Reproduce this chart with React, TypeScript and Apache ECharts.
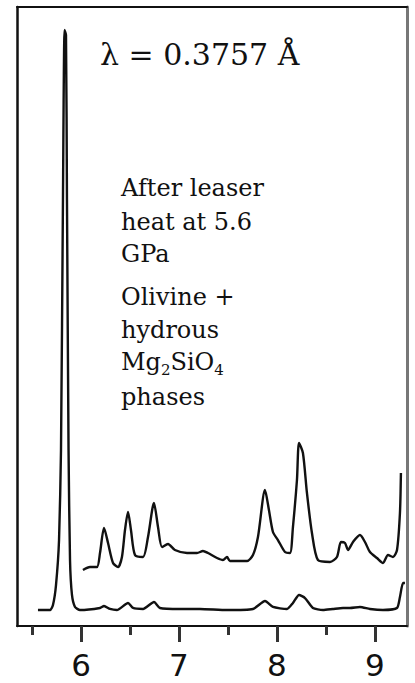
import React, { useEffect, useRef } from "react";
import * as echarts from "echarts";

// Bottom (full) pattern: [2-theta (deg), intensity]
const lowerX = [5.561, 5.684, 5.714, 5.745, 5.776, 5.796, 5.816, 5.832, 5.847, 5.857, 5.873, 5.888, 5.908, 5.939, 5.99, 6.194, 6.235, 6.296, 6.367, 6.48, 6.531, 6.633, 6.745, 6.806, 7.01, 7.214, 7.49, 7.755, 7.878, 7.959, 8.102, 8.163, 8.225, 8.286, 8.367, 8.469, 8.571, 8.674, 8.745, 8.847, 8.949, 9.082, 9.225, 9.255, 9.286, 9.306];
const lowerY = [2.58, 2.58, 3.39, 6.62, 13.89, 28.43, 68.82, 96.28, 95.48, 68.82, 28.43, 10.66, 5.01, 3.07, 2.58, 2.91, 3.23, 2.75, 2.58, 3.72, 2.91, 2.75, 3.88, 2.91, 2.75, 2.75, 2.58, 2.75, 4.04, 3.07, 2.75, 3.72, 5.01, 4.52, 2.91, 2.58, 2.75, 2.91, 2.91, 3.07, 2.75, 2.58, 2.91, 4.68, 6.95, 6.95];

// Upper (magnified, after laser heating) pattern
const upperX = [6.02, 6.092, 6.163, 6.194, 6.235, 6.276, 6.327, 6.378, 6.418, 6.449, 6.48, 6.51, 6.551, 6.633, 6.684, 6.745, 6.786, 6.827, 6.888, 6.959, 7.082, 7.184, 7.245, 7.296, 7.388, 7.449, 7.49, 7.52, 7.694, 7.755, 7.806, 7.878, 7.918, 7.959, 8.01, 8.082, 8.133, 8.163, 8.204, 8.225, 8.265, 8.306, 8.357, 8.418, 8.541, 8.612, 8.653, 8.694, 8.725, 8.776, 8.847, 8.898, 8.949, 9.02, 9.082, 9.133, 9.184, 9.225, 9.255, 9.265];
const upperY = [9.05, 9.53, 9.53, 11.79, 15.83, 13.41, 10.18, 9.53, 11.15, 15.51, 18.42, 15.51, 11.47, 11.15, 14.38, 19.87, 15.99, 12.76, 13.25, 12.28, 11.79, 11.79, 12.12, 11.79, 10.99, 10.66, 11.15, 10.5, 10.5, 11.47, 14.38, 21.97, 18.74, 15.19, 13.89, 11.95, 11.79, 15.99, 23.59, 29.56, 27.95, 21.49, 15.02, 10.66, 10.34, 11.15, 13.57, 13.41, 12.28, 13.57, 14.7, 13.57, 11.95, 10.99, 10.18, 11.47, 11.15, 12.28, 18.26, 24.72];

const majorTicks = [6, 7, 8, 9];
const minorTicks = [5.5, 6.5, 7.5, 8.5];
const xMin = 5.347;
const xMax = 9.327;

const titleText = "λ = 0.3757 Å";
const noteLines1 = ["After leaser", "heat at 5.6", "GPa"];
const noteLines2 = ["Olivine +", "hydrous", "{b|Mg}{s|2}{b|SiO}{s|4}", "phases"];

export default function App() {
  const ref = useRef<HTMLDivElement>(null);
  useEffect(() => {
    if (!ref.current) return;
    const chart = echarts.init(ref.current, null, { renderer: "svg" });
    const serif = '"DejaVu Serif", serif';
    const lineY1 = [188, 221.5, 254];
    const lineY2 = [297, 329.5, 362, 396.5];
    const graphics: any[] = [
      {
        type: "text",
        x: 100,
        y: 54.6,
        style: { text: titleText, fontFamily: serif, fontSize: 30, fill: "#111", align: "left", verticalAlign: "middle" },
      },
    ];
    noteLines1.forEach((t, i) => {
      graphics.push({
        type: "text",
        x: 121,
        y: lineY1[i],
        style: { text: t, fontFamily: serif, fontSize: 24, fill: "#111", align: "left", verticalAlign: "middle" },
      });
    });
    noteLines2.forEach((t, i) => {
      graphics.push({
        type: "text",
        x: 121,
        y: lineY2[i],
        style: {
          text: t,
          fontFamily: serif,
          fontSize: 24,
          fill: "#111",
          align: "left",
          verticalAlign: "middle",
          rich: {
            b: { fontFamily: serif, fontSize: 24, fill: "#111", lineHeight: 30, verticalAlign: "middle" },
            s: { fontFamily: serif, fontSize: 15, fill: "#111", lineHeight: 12, verticalAlign: "bottom" },
          },
        },
      });
    });

    chart.setOption({
      animation: false,
      backgroundColor: "#fff",
      grid: { left: 17, right: 8, top: 7, bottom: 57 },
      xAxis: [
        {
          type: "value",
          min: xMin,
          max: xMax,
          position: "bottom",
          axisLine: { show: true, onZero: false, lineStyle: { color: "#111", width: 2 } },
          axisTick: { show: true, customValues: majorTicks, length: 16, lineStyle: { color: "#333", width: 3 } },
          axisLabel: { show: true, customValues: majorTicks, margin: 23, fontSize: 31, lineHeight: 32, fontFamily: '"DejaVu Sans", sans-serif', color: "#111" },
          splitLine: { show: false },
        },
        {
          type: "value",
          min: xMin,
          max: xMax,
          position: "bottom",
          axisLine: { show: false },
          axisTick: { show: true, customValues: minorTicks, length: 9, lineStyle: { color: "#333", width: 3 } },
          axisLabel: { show: false },
          splitLine: { show: false },
        },
        {
          type: "value",
          min: xMin,
          max: xMax,
          position: "top",
          axisLine: { show: true, onZero: false, lineStyle: { color: "#111", width: 2 } },
          axisTick: { show: false },
          axisLabel: { show: false },
          splitLine: { show: false },
        },
      ],
      yAxis: [
        {
          type: "value",
          min: 0,
          max: 100,
          position: "left",
          axisLine: { show: true, onZero: false, lineStyle: { color: "#111", width: 2.5 } },
          axisTick: { show: false },
          axisLabel: { show: false },
          splitLine: { show: false },
        },
        {
          type: "value",
          min: 0,
          max: 100,
          position: "right",
          axisLine: { show: true, onZero: false, lineStyle: { color: "#777", width: 3 } },
          axisTick: { show: false },
          axisLabel: { show: false },
          splitLine: { show: false },
        },
      ],
      series: [
        {
          type: "line",
          name: "before",
          xAxisIndex: 0,
          yAxisIndex: 0,
          data: lowerX.map((x, i) => [x, lowerY[i]]),
          showSymbol: false,
          symbol: "none",
          smooth: 0.2,
          lineStyle: { color: "#111", width: 2.4 },
          z: 3,
        },
        {
          type: "line",
          name: "after",
          xAxisIndex: 0,
          yAxisIndex: 0,
          data: upperX.map((x, i) => [x, upperY[i]]),
          showSymbol: false,
          symbol: "none",
          smooth: 0.25,
          lineStyle: { color: "#111", width: 2.4 },
          z: 3,
        },
      ],
      graphic: graphics,
    });
    return () => chart.dispose();
  }, []);
  return (
    <div
      ref={ref}
      style={{ position: "fixed", left: 0, top: 0, width: 415, height: 683, background: "#fff" }}
    />
  );
}
